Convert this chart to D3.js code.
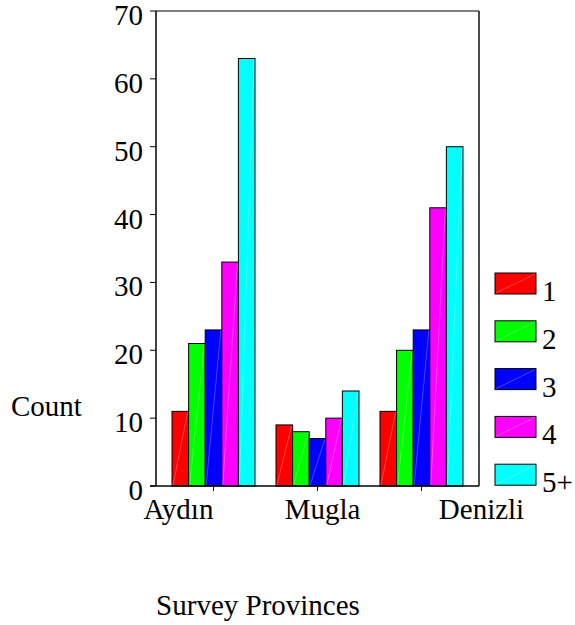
<!DOCTYPE html>
<html>
<head>
<meta charset="utf-8">
<script src="https://cdn.jsdelivr.net/npm/d3@7"></script>
<style>
body { margin: 0; background: #fff; }
text { font-family: "Liberation Serif", "Times New Roman", serif; font-size: 29px; fill: #000; }
</style>
</head>
<body>
<div id="drawing"></div>
<script>
"use strict"

/**** Data ****/
let provinces = ["Aydın", "Mugla", "Denizli"]
let groupNames = ["1", "2", "3", "4", "5+"]
let countsG1 = [11, 9, 11]
let countsG2 = [21, 8, 20]
let countsG3 = [23, 7, 23]
let countsG4 = [33, 10, 41]
let countsG5 = [63, 14, 50]
let groupColors = ["#ff0000", "#00ff00", "#0000ff", "#ff00ff", "#00ffff"]
let yTicks = [0, 10, 20, 30, 40, 50, 60, 70]

let seriesList = [countsG1, countsG2, countsG3, countsG4, countsG5]

let bars = []
provinces.forEach(function(p, i) {
    groupNames.forEach(function(g, j) {
        bars.push({province: p, group: g, value: seriesList[j][i], color: groupColors[j]})
    })
})

/**** Layout ****/
let svgWidth = 575
let svgHeight = 625
let plotLeft = 156
let plotRight = 479
let plotTop = 11
let plotBottom = 486

// category labels sit off-centre from their ticks in the original
let labelShift = [-35, 5, 60]

let svg = d3.select("#drawing")
.append("svg")
.attr("width", svgWidth)
.attr("height", svgHeight)

/**** Scales ****/
let xScale = d3.scaleBand()
.domain(provinces)
.range([plotLeft, plotRight])
.paddingInner(0.202)
.paddingOuter(0.154)

let xInner = d3.scaleBand()
.domain(groupNames)
.range([0, xScale.bandwidth()])

let yScale = d3.scaleLinear()
.domain([0, 70])
.range([plotBottom, plotTop])

/**** Frame (top and right) ****/
svg.append("line")
.attr("x1", plotLeft).attr("y1", plotTop)
.attr("x2", plotRight).attr("y2", plotTop)
.attr("stroke", "#555").attr("stroke-width", 1.5)

svg.append("line")
.attr("x1", plotRight).attr("y1", plotTop)
.attr("x2", plotRight).attr("y2", plotBottom)
.attr("stroke", "#111").attr("stroke-width", 1.5)

/**** Bars ****/
let barG = svg.selectAll("g.bar")
.data(bars)
.join("g")
.attr("class", "bar")

barG.append("rect")
.attr("x", d => xScale(d.province) + xInner(d.group))
.attr("y", d => yScale(d.value))
.attr("width", xInner.bandwidth())
.attr("height", d => yScale(0) - yScale(d.value))
.attr("fill", d => d.color)
.attr("stroke", "#000")
.attr("stroke-width", 1)

barG.append("line")
.attr("x1", d => xScale(d.province) + xInner(d.group) + 1)
.attr("y1", yScale(0) - 1)
.attr("x2", d => xScale(d.province) + xInner(d.group) + xInner.bandwidth() - 1)
.attr("y2", d => yScale(d.value) + 1)
.attr("stroke", "#fff")
.attr("stroke-opacity", 0.35)
.attr("stroke-width", 0.8)

/**** Y axis ****/
svg.append("line")
.attr("x1", plotLeft).attr("y1", plotTop)
.attr("x2", plotLeft).attr("y2", plotBottom)
.attr("stroke", "#000").attr("stroke-width", 1.5)

svg.selectAll("line.ytick")
.data(yTicks)
.join("line")
.attr("class", "ytick")
.attr("x1", plotLeft - 6).attr("x2", plotLeft)
.attr("y1", d => yScale(d)).attr("y2", d => yScale(d))
.attr("stroke", "#000")

svg.selectAll("text.ylab")
.data(yTicks)
.join("text")
.attr("class", "ylab")
.attr("x", 143)
.attr("y", d => yScale(d) + 14)
.style("text-anchor", "end")
.text(d => d)

/**** X axis ****/
svg.append("line")
.attr("x1", plotLeft - 6).attr("y1", plotBottom)
.attr("x2", plotRight).attr("y2", plotBottom)
.attr("stroke", "#000").attr("stroke-width", 1.5)

svg.selectAll("line.xtick")
.data(provinces)
.join("line")
.attr("class", "xtick")
.attr("x1", d => xScale(d) + xScale.bandwidth() / 2)
.attr("x2", d => xScale(d) + xScale.bandwidth() / 2)
.attr("y1", plotBottom).attr("y2", plotBottom + 5)
.attr("stroke", "#000")

svg.selectAll("text.xlab")
.data(provinces)
.join("text")
.attr("class", "xlab")
.attr("x", (d, i) => xScale(d) + xScale.bandwidth() / 2 + labelShift[i])
.attr("y", 519)
.style("text-anchor", "middle")
.text(d => d)

/**** Axis titles ****/
svg.append("text")
.attr("x", 11)
.attr("y", 416)
.text("Count")

svg.append("text")
.attr("x", 258)
.attr("y", 615)
.style("text-anchor", "middle")
.text("Survey Provinces")

/**** Legend ****/
let legend = svg.append("g")
.attr("transform", "translate(495,273)")

let legendItems = legend.selectAll("g")
.data(groupNames)
.join("g")
.attr("transform", (d, i) => `translate(0,${i * 47.8})`)

legendItems.append("rect")
.attr("width", 41)
.attr("height", 21)
.attr("fill", (d, i) => groupColors[i])
.attr("stroke", "#000")

legendItems.append("line")
.attr("x1", 1).attr("y1", 20)
.attr("x2", 40).attr("y2", 1)
.attr("stroke", "#fff")
.attr("stroke-opacity", 0.35)
.attr("stroke-width", 0.8)

legendItems.append("text")
.attr("x", 47)
.attr("y", 28)
.text(d => d)
</script>
</body>
</html>
